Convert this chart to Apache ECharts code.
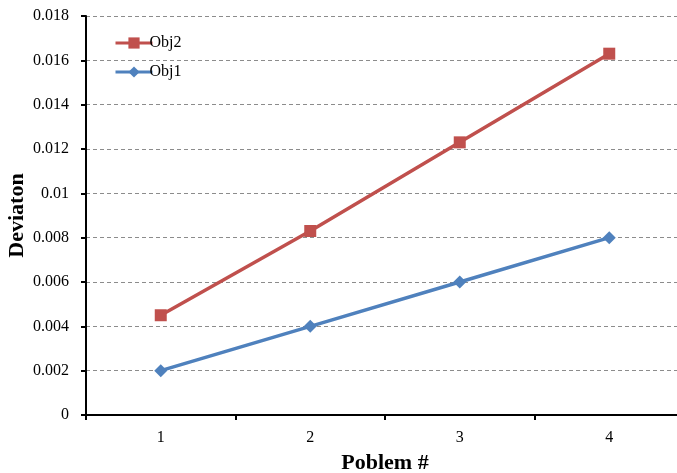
<!DOCTYPE html>
<html><head><meta charset="utf-8">
<script src="https://cdn.jsdelivr.net/npm/echarts@6/dist/echarts.min.js"></script>
<style>html,body{margin:0;padding:0;background:#fff}#c{width:677px;height:473px}</style>
</head><body><div id="c"></div>
<script>
const categories = ['1','2','3','4'];
const obj2 = [0.0045, 0.0083, 0.0123, 0.0163];
const obj1 = [0.002, 0.004, 0.006, 0.008];
const font = '"Liberation Serif","Times New Roman",serif';
const chart = echarts.init(document.getElementById('c'));
chart.setOption({
  animation: false,
  grid: {left: 86, right: -7, top: 16, bottom: 58, containLabel: false, outerBoundsMode: 'none'},
  legend: {
    orient: 'vertical', left: 109, top: 30, itemGap: 13, itemWidth: 37, itemHeight: 14,
    data: ['Obj2','Obj1'],
    lineStyle: {width: 3},
    textStyle: {fontFamily: font, fontSize: 16, color: '#000', padding: [0,0,0,-8]}
  },
  xAxis: {
    type: 'category', data: categories, boundaryGap: true,
    axisLine: {lineStyle: {color: '#000', width: 2}},
    axisTick: {show: true, length: 5, lineStyle: {color: '#000', width: 2}},
    axisLabel: {fontFamily: font, fontSize: 16, color: '#000', margin: 15},
    name: 'Poblem #', nameLocation: 'middle', nameGap: 37, nameMoveOverlap: false,
    nameTextStyle: {fontFamily: font, fontSize: 22, fontWeight: 'bold', color: '#000'}
  },
  yAxis: {
    type: 'value', min: 0, max: 0.018, interval: 0.002,
    axisLine: {show: true, lineStyle: {color: '#000', width: 2}},
    axisTick: {show: true, length: 5, lineStyle: {color: '#000', width: 2}},
    axisLabel: {fontFamily: font, fontSize: 16, color: '#000', margin: 17,
      formatter: v => v === 0 ? '0' : String(+v.toFixed(3))},
    splitLine: {lineStyle: {color: '#8c8c8c', type: [4,3], width: 1}},
    name: 'Deviaton', nameLocation: 'middle', nameGap: 58, nameMoveOverlap: false,
    nameTextStyle: {fontFamily: font, fontSize: 22, fontWeight: 'bold', color: '#000'}
  },
  series: [
    {name: 'Obj2', type: 'line', data: obj2, symbol: 'rect', symbolSize: 12,
     lineStyle: {width: 3.5, color: '#C0504D'}, itemStyle: {color: '#C0504D'}},
    {name: 'Obj1', type: 'line', data: obj1, symbol: 'diamond', symbolSize: 13,
     lineStyle: {width: 3.5, color: '#4F81BD'}, itemStyle: {color: '#4F81BD'}}
  ]
});
</script></body></html>
